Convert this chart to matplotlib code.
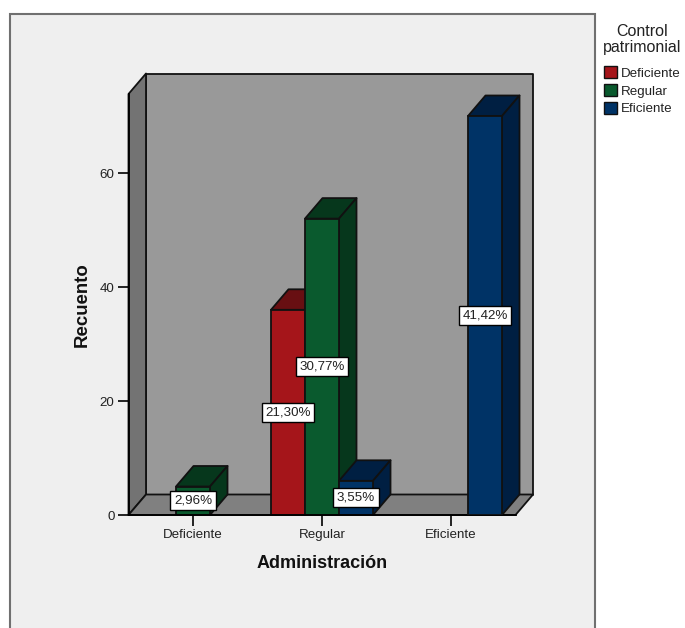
import matplotlib
matplotlib.use('Agg')
import matplotlib.pyplot as plt
from matplotlib.patches import Polygon, Rectangle, Patch

plt.rcParams['font.family'] = ['Liberation Sans', 'DejaVu Sans']

# recuento por administración y control patrimonial
categorias = ['Deficiente', 'Regular', 'Eficiente']
series = ['Deficiente', 'Regular', 'Eficiente']
valores = {
    'Deficiente': [0, 36, 0],
    'Regular': [5, 52, 0],
    'Eficiente': [0, 6, 70],
}
porcentajes = {
    'Deficiente': [None, '21,30%', None],
    'Regular': ['2,96%', '30,77%', None],
    'Eficiente': [None, '3,55%', '41,42%'],
}
yticks = [0, 20, 40, 60]

# color frontal, color de la cara superior y lateral
colores = {
    'Deficiente': ('#A5151A', '#680F12'),
    'Regular': ('#0A5A2E', '#06371C'),
    'Eficiente': ('#003366', '#001F42'),
}

W, H = 685, 628
fig = plt.figure(figsize=(W / 100, H / 100), dpi=100, facecolor='white')

# panel gris claro, abierto por abajo
fig.add_artist(Rectangle((10 / W, -0.01), 585 / W, 1.01 - 14 / H, transform=fig.transFigure,
                         facecolor='#EFEFEF', edgecolor='#707070', linewidth=1.5, zorder=-1))

ax = fig.add_axes([128.5 / W, 1 - 515 / H, 387 / W, 421 / H])
ax.set_xlim(-0.5, 2.5)
ax.set_ylim(0, 73.86)
ax.patch.set_visible(False)
for s in ['top', 'right']:
    ax.spines[s].set_visible(False)
for s in ['left', 'bottom']:
    ax.spines[s].set_linewidth(1.3)
    ax.spines[s].set_zorder(6)

# profundidad de la vista 3D en unidades de datos
dx = 17.5 / 129
dy = 20.5 / 5.7
ancho = 34 / 129
x0, x1 = ax.get_xlim()
y1 = ax.get_ylim()[1]


def poly(puntos, color, z, lw=1.3):
    ax.add_patch(Polygon(puntos, closed=True, facecolor=color, edgecolor='#111111',
                         linewidth=lw, joinstyle='round', clip_on=False, zorder=z))


# paredes y piso
poly([(x0 + dx, dy), (x1 + dx, dy), (x1 + dx, y1 + dy), (x0 + dx, y1 + dy)], '#999999', 1)
poly([(x0, 0), (x0 + dx, dy), (x0 + dx, y1 + dy), (x0, y1)], '#737373', 1)
poly([(x0, 0), (x1, 0), (x1 + dx, dy), (x0 + dx, dy)], '#808080', 1)

z = 2
for i, cat in enumerate(categorias):
    for j, nombre in enumerate(series):
        v = valores[nombre][i]
        if v == 0:
            continue
        xc = i + (j - 1) * ancho
        izq, der = xc - ancho / 2, xc + ancho / 2
        frente, sombra = colores[nombre]
        poly([(izq, v), (der, v), (der + dx, v + dy), (izq + dx, v + dy)], sombra, z)
        poly([(der, 0), (der + dx, dy), (der + dx, v + dy), (der, v)], sombra, z)
        ax.bar(xc, v, width=ancho, color=frente, edgecolor='#111111', linewidth=1.3,
               zorder=z + 0.5)
        z += 1

# etiquetas de porcentaje
for i, cat in enumerate(categorias):
    for j, nombre in enumerate(series):
        t = porcentajes[nombre][i]
        if t is None:
            continue
        xc = i + (j - 1) * ancho
        ax.text(xc, valores[nombre][i] / 2, t, ha='center', va='center', fontsize=9.6,
                color='#222222', zorder=20,
                bbox=dict(boxstyle='square,pad=0.26', facecolor='white', edgecolor='black',
                          linewidth=1))

ax.set_xticks(range(len(categorias)))
ax.set_xticklabels(categorias)
ax.set_yticks(yticks)
ax.tick_params(axis='both', length=8, width=1.2, labelsize=9.6, labelcolor='#222222', pad=2)
ax.tick_params(axis='x', pad=2)

fig.text(322 / W, 1 - 563 / H, 'Administración', ha='center', va='center',
         fontsize=13, fontweight='bold', color='#111111')
fig.text(82 / W, 1 - 305 / H, 'Recuento', ha='center', va='center', rotation=90,
         fontsize=13.4, fontweight='bold', color='#111111')

handles = [Patch(facecolor=colores[n][0], edgecolor='#111111', linewidth=1) for n in series]
leg = fig.legend(handles, series, title='Control\npatrimonial', loc='upper left',
                 bbox_to_anchor=(603 / W, 1 - 24 / H), frameon=False, fontsize=9.6,
                 title_fontsize=11.5, handlelength=0.95, handleheight=1.0,
                 handletextpad=0.3, labelspacing=0.32, borderpad=0, borderaxespad=0)
leg._legend_box.sep = 8
leg.get_title().set_linespacing(1.1)
leg.get_title().set_multialignment('center')
leg.get_title().set_color('#222222')
for t in leg.get_texts():
    t.set_color('#222222')

fig.savefig('out.png', dpi=100, facecolor='white')
